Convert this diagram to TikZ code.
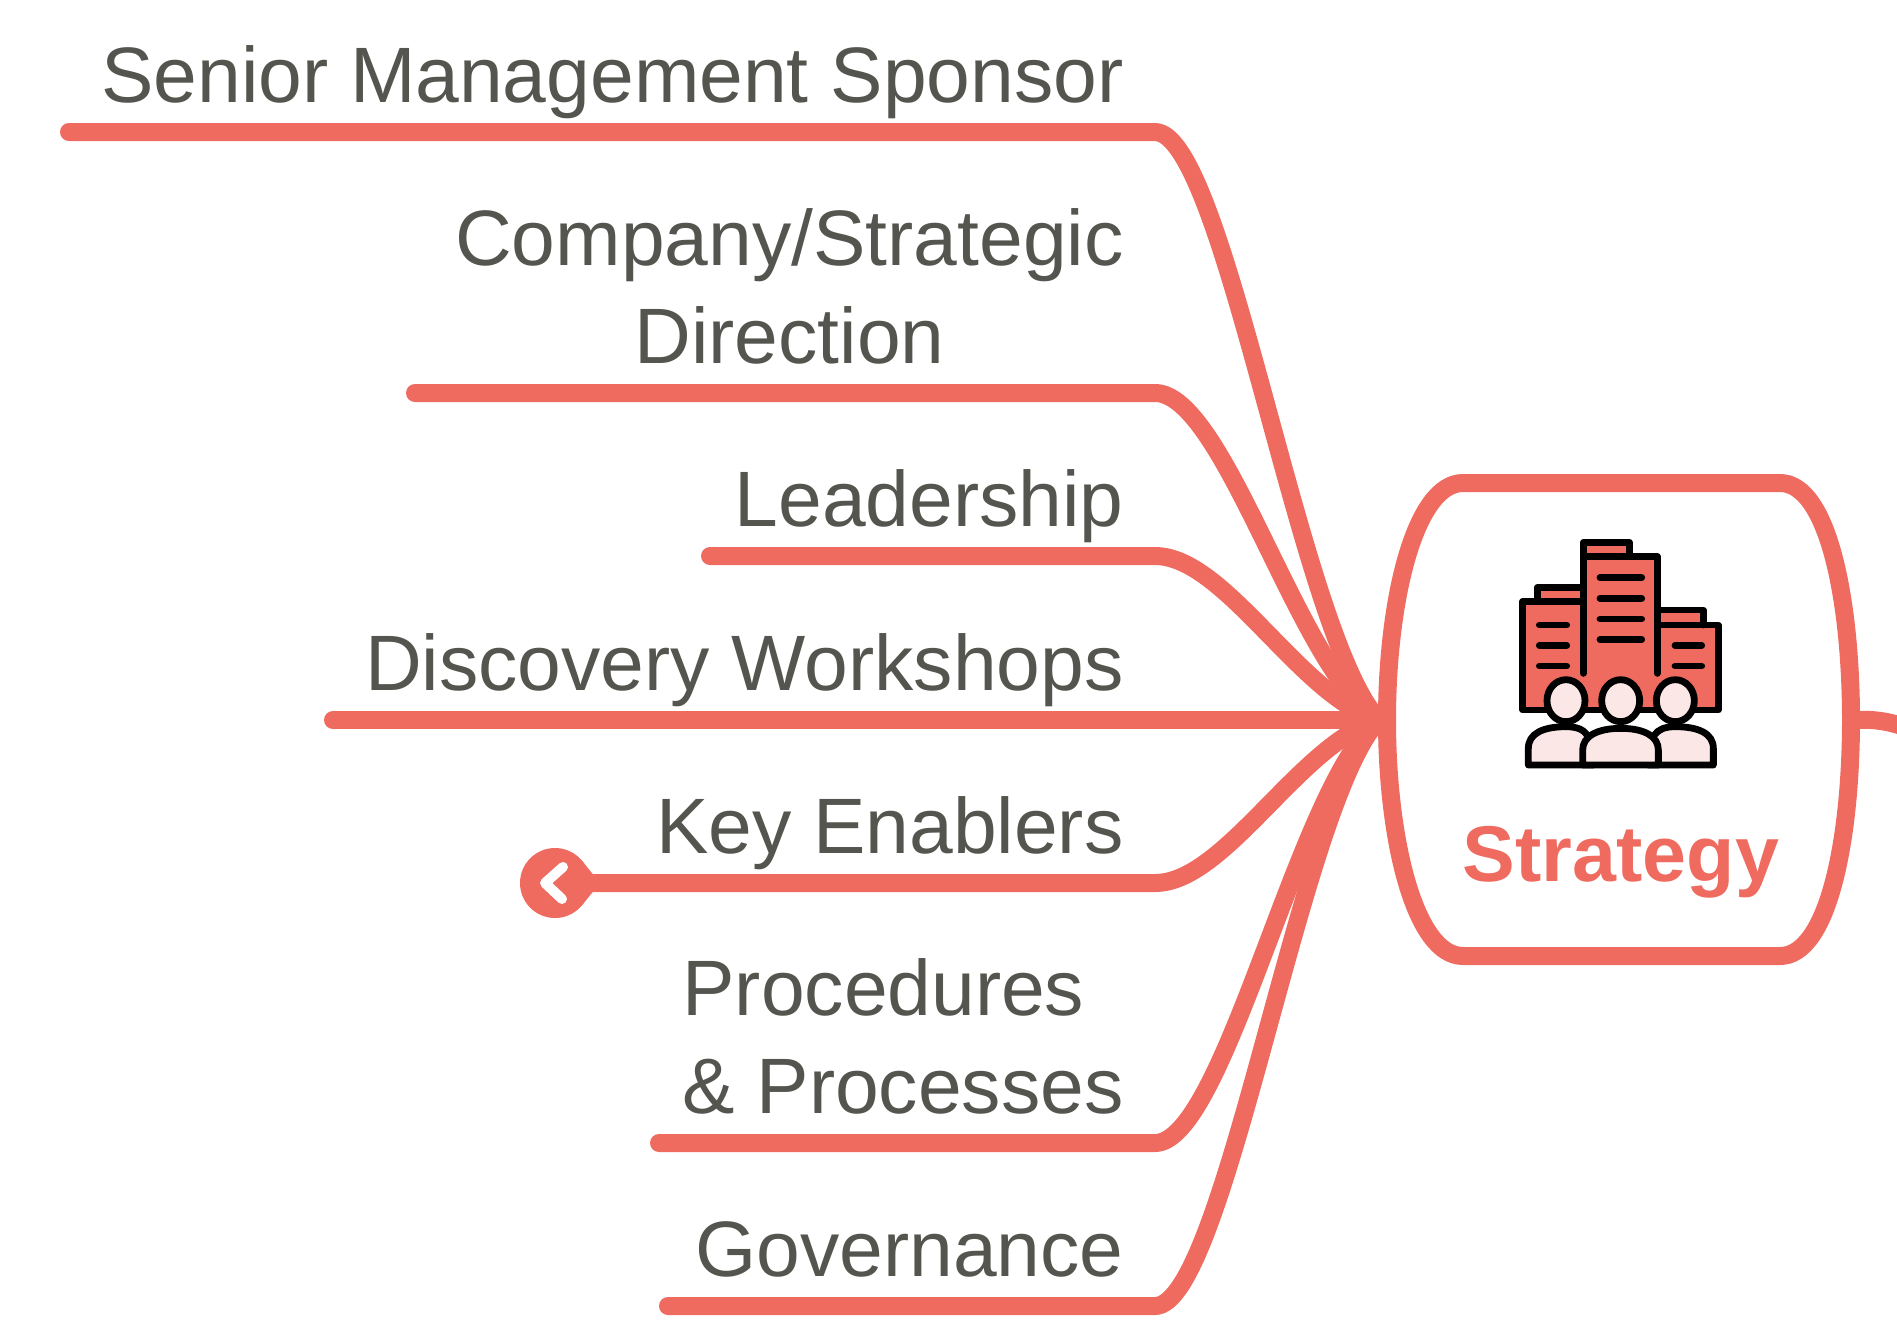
\documentclass[tikz,border=0pt]{standalone}
\usepackage{fontspec}
\setmainfont{Liberation Sans}
\definecolor{coral}{HTML}{EF6A5F}
\definecolor{inkgrey}{HTML}{55554F}
\definecolor{blush}{HTML}{FBE8E6}
\tikzset{
	branch/.style={draw=coral, line width=9pt, line cap=round, line join=round},
	topic/.style={anchor=south east, inner sep=0pt, text=inkgrey, font=\fontsize{39.3}{49}\selectfont},
	iconline/.style={draw=black, line width=3.4pt, line cap=round, line join=round},
}
\begin{document}
\begin{tikzpicture}[x=0.5pt, y=-0.5pt]
	\useasboundingbox (0,0) rectangle (1897,1341);
	\coordinate (hub) at (1379,720);
	\foreach \n/\s/\y/\a/\l in {sponsor/69/132/right/{Senior Management Sponsor}, direction/415/393/center/{Company/Strategic\\Direction}, leadership/710/556/right/{Leadership}, workshops/333/720/right/{Discovery Workshops}, enablers/590/883/right/{Key Enablers}, processes/659/1143/left/{Procedures\\\& Processes}, governance/668/1306/right/{Governance}} {
		\pgfmathsetmacro\c{720+(\y-720)*0.14}
		\coordinate (start\n) at (\s,\y);
		\coordinate (bend\n) at (1155,\y);
		\draw[branch] (start\n) -- (bend\n) .. controls +(70,0) and (1300,\c) .. (hub);
		\node[topic, align=\a] (label\n) at (1124,\y) {\l\strut};
	}
	% main box
	\draw[branch] (1463,483) -- (1780,483) .. controls (1828,483) and (1851,600) .. (1851,720) .. controls (1851,840) and (1828,956) .. (1780,956) -- (1463,956) .. controls (1415,956) and (1387,840) .. (1387,720) .. controls (1387,600) and (1415,483) .. (1463,483) -- cycle;
	\coordinate (boxeast) at (1856,720);
	\coordinate (stubend) at (1905,727);
	\draw[branch] (boxeast) .. controls +(20,-1) and +(-15,-5) .. (stubend);
	\node[text=coral, font=\fontsize{39.5}{46}\bfseries\selectfont, anchor=base] (strategy) at (1621,881) {Strategy};
	% collapse knob
	\node[circle, fill=coral, minimum size=35pt, inner sep=0pt] (knob) at (555,883) {};
	\fill[coral] (581.6,860.3) -- (600,883) -- (581.6,905.7) -- cycle;
	\coordinate (chevtop) at (563,867);
	\coordinate (chevmid) at (545,883);
	\coordinate (chevbot) at (562,899);
	\draw[white, line width=5pt, line cap=round, line join=round] (chevtop) -- (chevmid) -- (chevbot);
	% icon
	\begin{scope}[shift={(1480,510)}, x=0.16667pt, y=-0.16667pt]
		\fill[coral] (128,275) rectangle (310,600);
		\fill[coral] (532,345) rectangle (715,600);
		\fill[coral] (310,140) rectangle (532,600);
		\filldraw[iconline, fill=coral] (172,275) -- (172,232) -- (310,232) -- (310,275);
		\filldraw[iconline, fill=coral] (532,345) -- (532,300) -- (670,300) -- (670,345);
		\filldraw[iconline, fill=coral] (310,140) -- (310,97) -- (448,97) -- (448,140);
		\draw[iconline] (310,490) -- (310,140) -- (532,140) -- (532,490);
		\draw[iconline] (310,275) -- (128,275) -- (128,600) -- (715,600) -- (715,345) -- (532,345);
		\foreach \v in {203,265,327,389} {\draw[iconline] (360,\v) -- (485,\v);}
		\foreach \v in {345,406,468} {\draw[iconline] (178,\v) -- (260,\v);}
		\foreach \v in {406,468} {\draw[iconline] (585,\v) -- (665,\v);}
		\filldraw[iconline, fill=blush] (145,765) -- (145,715) .. controls (145,670) and (190,650) .. (258,650) .. controls (320,650) and (340,680) .. (340,765) -- cycle;
		\filldraw[iconline, fill=blush] (700,765) -- (700,715) .. controls (700,670) and (655,650) .. (586,650) .. controls (525,650) and (505,680) .. (505,765) -- cycle;
		\filldraw[iconline, fill=blush] (308,765) -- (308,720) .. controls (308,680) and (350,655) .. (422,655) .. controls (495,655) and (535,680) .. (535,720) -- (535,765) -- cycle;
		\foreach \v in {258,422,586} {\filldraw[iconline, fill=blush] (\v,572) ellipse [x radius=57, y radius=63];}
	\end{scope}
\end{tikzpicture}
\end{document}
